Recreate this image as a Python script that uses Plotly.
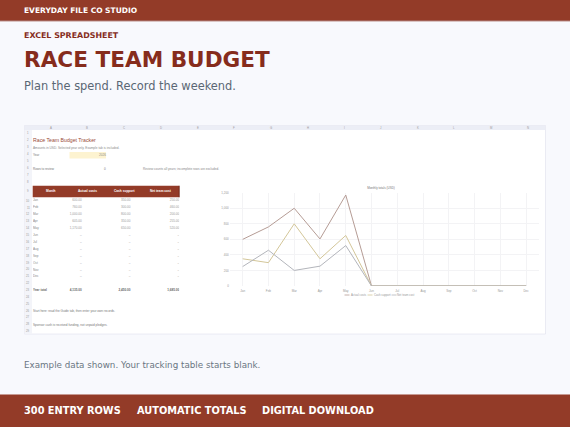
import plotly.graph_objects as go

W = 570
H = 427

months = ['Jan', 'Feb', 'Mar', 'Apr', 'May', 'Jun', 'Jul', 'Aug', 'Sep', 'Oct', 'Nov', 'Dec']
actual_costs = [600, 760, 1000, 605, 1170, 0, 0, 0, 0, 0, 0, 0]
cash_support = [350, 300, 800, 350, 650, 0, 0, 0, 0, 0, 0, 0]
net_team_cost = [250, 460, 200, 255, 520, 0, 0, 0, 0, 0, 0, 0]
y_ticks = [0, 200, 400, 600, 800, 1000, 1200]
y_tick_labels = ['0', '200', '400', '600', '800', '1,000', '1,200']

table_headers = ['Month', 'Actual costs', 'Cash support', 'Net team cost']
total_label = 'Year total'
totals = ['4,135.00', '2,450.00', '1,685.00']
column_letters = list('ABCDEFGHIJKLMN')
row_numbers = list(range(1, 30))

RED = '#933b28'
DARK_RED = '#862c1c'
PAGE = '#f8f9fd'
SHEET = 'Liberation Sans'


def px_x(x):
    return x / W


def px_y(y):
    return 1 - y / H


def row_y(row):
    # row 9 is the taller header row, so the rows above it sit on their own spacing
    if row >= 10:
        return 200.7 + (row - 10) * 6.87
    if row == 9:
        return 191.5
    return 132.7 + (row - 1) * 7.0


def money(v):
    return f'{v:,.2f}' if v else '–'


def add_rect(fig, x0, y0, x1, y1, fill, line=None):
    fig.add_shape(type='rect', xref='paper', yref='paper',
                  x0=px_x(x0), x1=px_x(x1), y0=px_y(y0), y1=px_y(y1),
                  fillcolor=fill, line=dict(color=line or fill, width=0.5 if line else 0),
                  layer='below')


def add_text(fig, x, y, text, size, color, bold=False, anchor='left', family='DejaVu Sans'):
    fig.add_annotation(xref='paper', yref='paper', x=px_x(x), y=px_y(y),
                       text=f'<b>{text}</b>' if bold else text, showarrow=False,
                       xanchor=anchor, yanchor='middle', borderpad=0, borderwidth=0,
                       font=dict(family=family, size=size, color=color))


fig = go.Figure()

# page bands
add_rect(fig, 0, 0, W, 20.5, RED)
add_rect(fig, 0, 20.5, W, 21.2, '#7f2a1b')
add_rect(fig, 0, 394.5, W, H, RED)
add_text(fig, 24, 10.5, 'EVERYDAY FILE CO STUDIO', 7.5, 'white', bold=True)
add_text(fig, 24, 35.5, 'EXCEL SPREADSHEET', 7.9, DARK_RED, bold=True)
add_text(fig, 24, 60, 'RACE TEAM BUDGET', 21.6, DARK_RED, bold=True)
add_text(fig, 24, 85.5, 'Plan the spend. Record the weekend.', 11.4, '#5a6774')
add_text(fig, 24, 364.5, 'Example data shown. Your tracking table starts blank.', 8.75, '#6a7682')
add_text(fig, 24, 410, '300 ENTRY ROWS', 9.8, 'white', bold=True)
add_text(fig, 137, 410, 'AUTOMATIC TOTALS', 9.8, 'white', bold=True)
add_text(fig, 262, 410, 'DIGITAL DOWNLOAD', 9.8, 'white', bold=True)

# spreadsheet frame
add_rect(fig, 24.5, 125.5, 545.5, 334, 'white', '#d9dbe8')
add_rect(fig, 24.5, 125.5, 545.5, 130, '#eceef6')
add_rect(fig, 24.5, 130, 32, 334, '#f3f4f9')
for i, letter in enumerate(column_letters):
    add_text(fig, 50.7 + i * 36.7, 127.8, letter, 2.8, '#999999', anchor='center', family=SHEET)
for row in row_numbers:
    add_text(fig, 28.3, row_y(row), str(row), 2.8, '#999999', anchor='center', family=SHEET)

# sheet text above and below the table
add_text(fig, 33, row_y(2), 'Race Team Budget Tracker', 5.2, '#9a4a38', family=SHEET)
add_text(fig, 33, 148.3, 'Amounts in USD. Selected year only. Example tab is included.', 3.15, '#8a8a8a', family=SHEET)
add_rect(fig, 69.5, 152, 106, 158.5, '#fdf3d0')
add_text(fig, 33, 155, 'Year', 3.1, '#777777', family=SHEET)
add_text(fig, 105.5, 155, '2026', 3.1, '#8a8a8a', anchor='right', family=SHEET)
add_text(fig, 33, 168.5, 'Rows to review', 3.1, '#777777', family=SHEET)
add_text(fig, 105.5, 168.5, '0', 3.1, '#777777', anchor='right', family=SHEET)
add_text(fig, 143, 168.5, 'Review counts all years; incomplete rows are excluded.', 3.1, '#8a8a8a', family=SHEET)
add_text(fig, 33, row_y(26) + 0.3, 'Start here: read the Guide tab, then enter your own records.', 3.1, '#777777', family=SHEET)
add_text(fig, 33, row_y(28) + 0.3, 'Sponsor cash is received funding, not unpaid pledges.', 3.1, '#777777', family=SHEET)

# table header
add_rect(fig, 32.7, 185.7, 179.3, 197.3, RED)
add_rect(fig, 178.8, 185.7, 179.5, 197.3, '#5e1a10')
for i, header in enumerate(table_headers):
    add_text(fig, 51 + i * 36.6, 191.5, header, 3.2, 'white', bold=True, anchor='center', family=SHEET)

# table cells on their own hidden axes, x = column edge, y = sheet row
table_rows = list(range(10, 10 + len(months)))
fig.add_trace(go.Scatter(x=[0] * len(months), y=table_rows, text=months, mode='text',
                         textposition='middle right', xaxis='x2', yaxis='y2', showlegend=False,
                         textfont=dict(family=SHEET, size=3.1, color='#888888'), hoverinfo='skip'))
for col, values in enumerate([actual_costs, cash_support, net_team_cost], start=1):
    fig.add_trace(go.Scatter(x=[col] * len(months), y=table_rows, text=[money(v) for v in values], mode='text',
                             textposition='middle left', xaxis='x2', yaxis='y2', showlegend=False,
                             textfont=dict(family=SHEET, size=3.1, color='#999999'), hoverinfo='skip'))
fig.add_trace(go.Scatter(x=[0], y=[23], text=[f'<b>{total_label}</b>'], mode='text',
                         textposition='middle right', xaxis='x2', yaxis='y2', showlegend=False,
                         textfont=dict(family=SHEET, size=3.1, color='#666666'), hoverinfo='skip'))
fig.add_trace(go.Scatter(x=[1, 2, 3], y=[23, 23, 23], text=[f'<b>{t}</b>' for t in totals], mode='text',
                         textposition='middle left', xaxis='x2', yaxis='y2', showlegend=False,
                         textfont=dict(family=SHEET, size=3.1, color='#666666'), hoverinfo='skip'))

# chart
series = [('Actual costs', actual_costs, '#b59c95'),
          ('Cash support', cash_support, '#d3c699'),
          ('Net team cost', net_team_cost, '#b3b5bb')]
for name, values, color in series:
    fig.add_trace(go.Scatter(x=months, y=values, name=name, mode='lines', showlegend=False,
                             line=dict(color=color, width=1)))

# legend keys drawn by hand, plotly's own legend has a 30px minimum key width
legend_x = [347, 370, 394]
for x, (name, values, color) in zip(legend_x, series):
    fig.add_shape(type='line', xref='paper', yref='paper', x0=px_x(x - 2.5), x1=px_x(x + 2.5),
                  y0=px_y(295), y1=px_y(295), line=dict(color=color, width=0.8))
    add_text(fig, x + 3.5, 295, name, 2.8, '#999999', family=SHEET)

fig.update_layout(
    width=W, height=H, margin=dict(l=0, r=0, t=0, b=0, pad=0, autoexpand=False), autosize=False,
    paper_bgcolor=PAGE, plot_bgcolor='rgba(0,0,0,0)',
    font=dict(family=SHEET),
    title=dict(text='Monthly totals (USD)', x=px_x(381), y=px_y(188), xref='paper', yref='paper',
               xanchor='center', yanchor='middle', font=dict(family=SHEET, size=3, color='#777777')),
    xaxis=dict(domain=[px_x(229.8), px_x(539)], type='category', range=[-0.5, 11.5], automargin=False,
               showgrid=True, gridcolor='#f3f3f5', gridwidth=0.6, showline=False, zeroline=False,
               ticks='outside', ticklen=1, tickcolor='rgba(0,0,0,0)',
               tickfont=dict(family=SHEET, size=3, color='#999999'), fixedrange=True),
    yaxis=dict(domain=[px_y(286), px_y(192.7)], range=[0, 1200], tickvals=y_ticks, ticktext=y_tick_labels, automargin=False,
               showgrid=True, gridcolor='#f3f3f5', gridwidth=0.6, zeroline=False, showline=False,
               ticks='', tickfont=dict(family=SHEET, size=3, color='#999999'), fixedrange=True),
    xaxis2=dict(domain=[px_x(33), px_x(179.3)], range=[0, 3], visible=False, anchor='y2', fixedrange=True),
    yaxis2=dict(domain=[px_y(297.4), px_y(193.83)], range=[24, 9], visible=False, anchor='x2', fixedrange=True),
    showlegend=False,
)

fig.write_html('out.html', config=dict(displayModeBar=False),
               post_script="document.body.style.margin='0';document.body.style.overflow='hidden';")
